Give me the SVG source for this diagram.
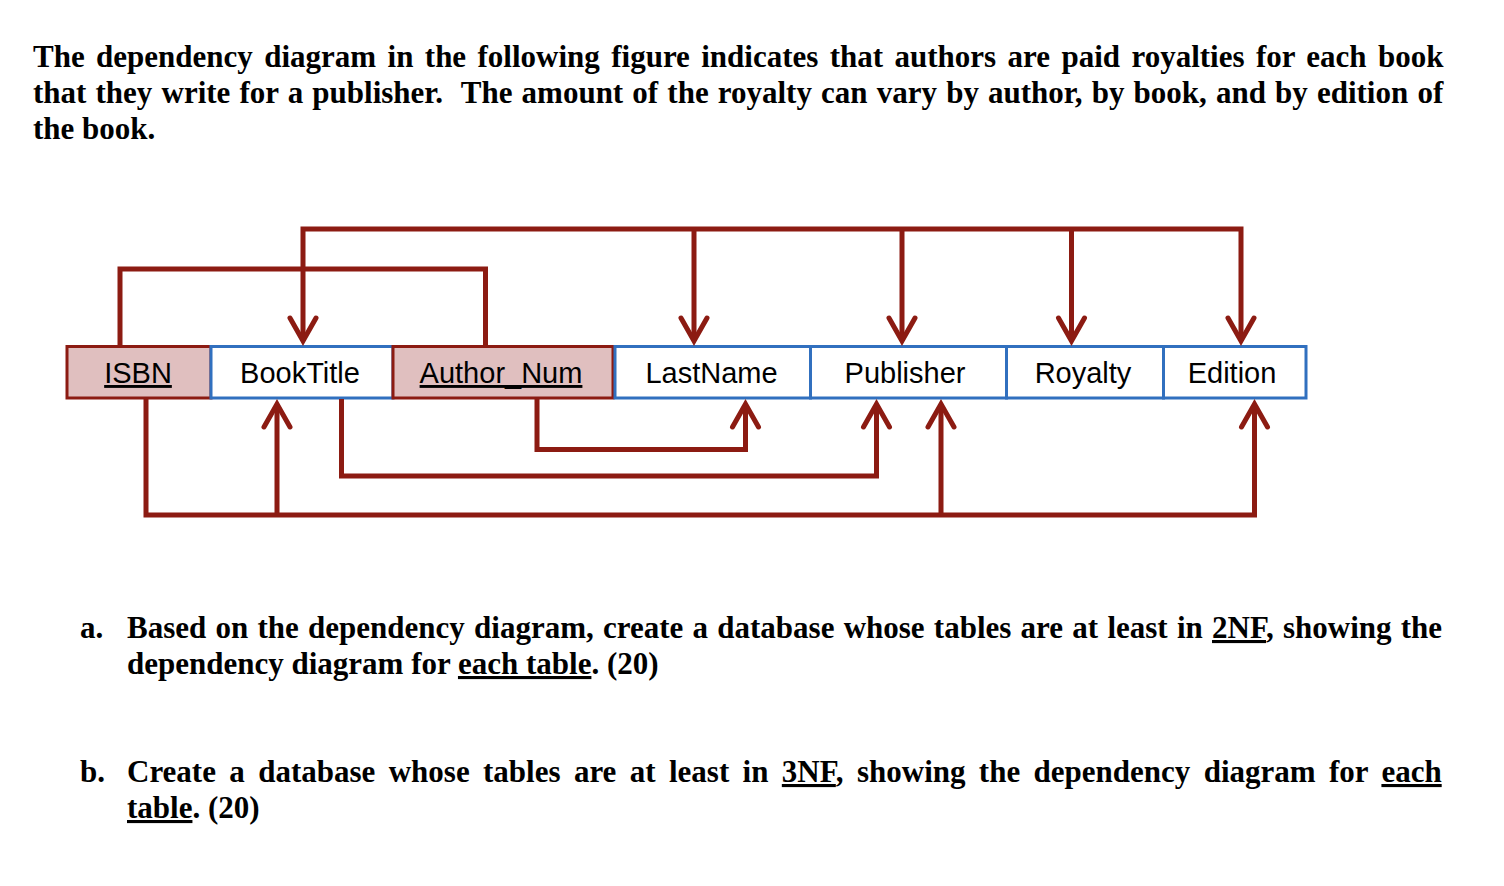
<svg xmlns="http://www.w3.org/2000/svg" width="1504" height="886" viewBox="0 0 1504 886">
<style>
.p{font-family:"Liberation Serif","Times New Roman",serif;font-weight:bold;font-size:31px;fill:#000}
.u{text-decoration:underline}
.lbl{font-family:"Liberation Sans",Arial,sans-serif;font-size:29px;fill:#000;text-anchor:middle}
.key rect{fill:#E0BFBF;stroke:#8C1B12;stroke-width:3}
.attr rect{fill:#fff;stroke:#3170BF;stroke-width:3}
.ln{fill:none;stroke:#8C1B12;stroke-width:5;stroke-linejoin:miter;stroke-linecap:butt}
.ah{fill:none;stroke:#8C1B12;stroke-width:5;stroke-linejoin:miter;stroke-linecap:round}
</style>
<rect x="0" y="0" width="1504" height="886" fill="#fff"/>

<g id="intro">
<text class="p" x="33" y="67" word-spacing="3.65">The dependency diagram in the following figure indicates that authors are paid royalties for each book</text>
<text class="p" x="33" y="103" word-spacing="1.4" xml:space="preserve">that they write for a publisher.  The amount of the royalty can vary by author, by book, and by edition of</text>
<text class="p" x="33" y="139">the book.</text>
</g>

<g id="nodes">
<g id="n-isbn" class="key"><rect x="67" y="346.5" width="144" height="51.5"/><text class="lbl u" x="138" y="383">ISBN</text></g>
<g id="n-booktitle" class="attr"><rect x="211" y="346.5" width="182" height="51.5"/><text class="lbl" x="300" y="383">BookTitle</text></g>
<g id="n-authornum" class="key"><rect x="393" y="346.5" width="220" height="51.5"/><text class="lbl u" x="501" y="383">Author_Num</text></g>
<g id="n-lastname" class="attr"><rect x="615" y="346.5" width="195.5" height="51.5"/><text class="lbl" x="711.5" y="383">LastName</text></g>
<g id="n-publisher" class="attr"><rect x="810.5" y="346.5" width="196" height="51.5"/><text class="lbl" x="905" y="383">Publisher</text></g>
<g id="n-royalty" class="attr"><rect x="1006.5" y="346.5" width="157" height="51.5"/><text class="lbl" x="1083" y="383">Royalty</text></g>
<g id="n-edition" class="attr"><rect x="1163.5" y="346.5" width="142.5" height="51.5"/><text class="lbl" x="1232" y="383">Edition</text></g>
</g>

<g id="connectors">
<path class="ln" d="M120,345 V269 H485.5 V345"/>
<path class="ln" d="M303,341 V229 H1241 V341 M694,229 V341 M902,229 V341 M1071.5,229 V341"/>
<path class="ln" d="M146,399 V515 H1254.5 V404 M277,515 V404 M941,515 V404"/>
<path class="ln" d="M341.5,399 V476 H876.5 V404"/>
<path class="ln" d="M537,399 V449.5 H745.5 V404"/>
<g id="arrows-down">
<polyline class="ah" points="290,318 303,341 316,318"/>
<polyline class="ah" points="681,318 694,341 707,318"/>
<polyline class="ah" points="889,318 902,341 915,318"/>
<polyline class="ah" points="1058.5,318 1071.5,341 1084.5,318"/>
<polyline class="ah" points="1228,318 1241,341 1254,318"/>
</g>
<g id="arrows-up">
<polyline class="ah" points="264,427 277,404 290,427"/>
<polyline class="ah" points="732.5,427 745.5,404 758.5,427"/>
<polyline class="ah" points="863.5,427 876.5,404 889.5,427"/>
<polyline class="ah" points="928,427 941,404 954,427"/>
<polyline class="ah" points="1241.5,427 1254.5,404 1267.5,427"/>
</g>
</g>

<g id="questions">
<text class="p" x="80" y="638">a.</text>
<text class="p" x="127" y="638" word-spacing="1.5">Based on the dependency diagram, create a database whose tables are at least in <tspan class="u">2NF</tspan>, showing the</text>
<text class="p" x="127" y="674">dependency diagram for <tspan class="u">each table</tspan>. (20)</text>
<text class="p" x="80" y="782">b.</text>
<text class="p" x="127" y="782" word-spacing="5.63">Create a database whose tables are at least in <tspan class="u">3NF</tspan>, showing the dependency diagram for <tspan class="u">each</tspan></text>
<text class="p" x="127" y="818"><tspan class="u">table</tspan>. (20)</text>
</g>
</svg>
